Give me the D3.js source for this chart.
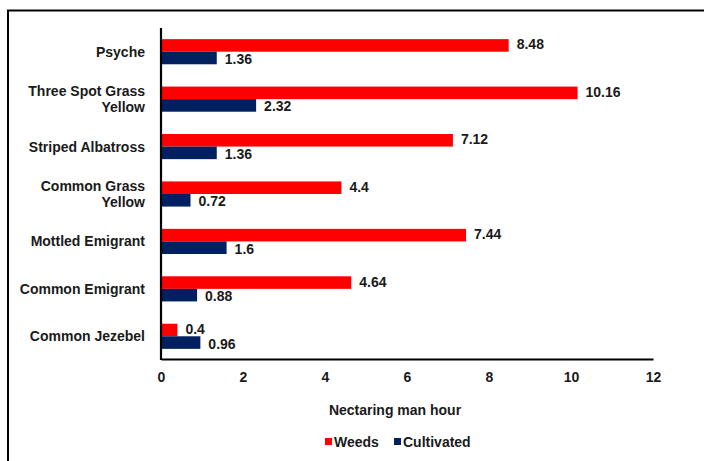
<!DOCTYPE html>
<html>
<head>
<meta charset="utf-8">
<script src="https://cdn.jsdelivr.net/npm/d3@7"></script>
<style>
  html, body { margin: 0; padding: 0; background: #fff; }
  svg text { font-family: "Liberation Sans", Arial, sans-serif; font-weight: bold; fill: #1a1a1a; }
</style>
</head>
<body>
<svg id="chart" width="704" height="461"></svg>
<script>
// Butterfly nectaring effort by plant type
const categories = ["Psyche", "Three Spot Grass Yellow", "Striped Albatross", "Common Grass Yellow",
                    "Mottled Emigrant", "Common Emigrant", "Common Jezebel"];
const categoryLines = [["Psyche"], ["Three Spot Grass", "Yellow"], ["Striped Albatross"],
                       ["Common Grass", "Yellow"], ["Mottled Emigrant"], ["Common Emigrant"], ["Common Jezebel"]];
const weeds = [8.48, 10.16, 7.12, 4.4, 7.44, 4.64, 0.4];
const cultivated = [1.36, 2.32, 1.36, 0.72, 1.6, 0.88, 0.96];
const seriesNames = ["Weeds", "Cultivated"];
const seriesColors = ["#ff0000", "#002060"];
const xTicks = [0, 2, 4, 6, 8, 10, 12];
const xTitle = "Nectaring man hour";

const svg = d3.select("#chart");

// outer frame (top and left edges)
svg.append("line").attr("x1", 7).attr("x2", 704).attr("y1", 10.5).attr("y2", 10.5)
  .attr("stroke", "#000").attr("stroke-width", 2);
svg.append("line").attr("x1", 8).attr("x2", 8).attr("y1", 10).attr("y2", 461)
  .attr("stroke", "#000").attr("stroke-width", 2);

const plot = { left: 161, right: 653, top: 28, bottom: 360 };

const x = d3.scaleLinear().domain([0, 12]).range([plot.left, plot.right]);
const y = d3.scaleBand().domain(categories).range([plot.top, plot.bottom]).paddingInner(0.47).paddingOuter(0.235);
const sub = d3.scaleBand().domain(seriesNames).range([0, y.bandwidth()]);

const rows = categories.map((c, i) => ({ cat: c, lines: categoryLines[i], values: [weeds[i], cultivated[i]] }));

const g = svg.append("g");
rows.forEach(r => {
  r.values.forEach((v, k) => {
    const y0 = y(r.cat) + sub(seriesNames[k]);
    g.append("rect")
      .attr("x", x(0)).attr("y", y0)
      .attr("width", x(v) - x(0)).attr("height", sub.bandwidth())
      .attr("fill", seriesColors[k]);
    g.append("text")
      .attr("x", x(v) + 8).attr("y", y0 + sub.bandwidth() / 2 + (k === 0 ? -1 : 1))
      .attr("dominant-baseline", "central")
      .attr("font-size", 14)
      .text(v);
  });
  // category label
  const cy = y(r.cat) + y.bandwidth() / 2;
  const t = svg.append("text").attr("text-anchor", "end").attr("font-size", 14);
  const n = r.lines.length;
  r.lines.forEach((ln, j) => {
    t.append("tspan").attr("x", 145)
      .attr("y", cy + (j - (n - 1) / 2) * 16)
      .attr("dominant-baseline", "central")
      .text(ln);
  });
});

// x axis (no tick marks)
const xAxis = d3.axisBottom(x).tickValues(xTicks).tickSize(0).tickPadding(13).tickFormat(d3.format("d"));
const xg = svg.append("g").attr("transform", `translate(0,${plot.bottom - 1})`).call(xAxis);
xg.select(".domain").attr("stroke", "#000").attr("stroke-width", 2.2);
xg.selectAll("text").attr("font-size", 14).attr("font-family", null).style("font-weight", "bold").attr("fill", "#1a1a1a");

// y axis line
const yAxis = d3.axisLeft(y).tickSize(0).tickFormat("");
const yg = svg.append("g").attr("transform", `translate(${plot.left},0)`).call(yAxis);
yg.select(".domain").attr("stroke", "#000").attr("stroke-width", 2.2)
  .attr("d", `M0,${plot.top}V${plot.bottom}`);

// axis title
svg.append("text").attr("x", 395).attr("y", 410).attr("text-anchor", "middle")
  .attr("dominant-baseline", "central").attr("font-size", 14).text(xTitle);

// legend
const legend = svg.append("g");
const legendItems = [{ x: 325, label: seriesNames[0], color: seriesColors[0] },
                     { x: 394, label: seriesNames[1], color: seriesColors[1] }];
legendItems.forEach(it => {
  legend.append("rect").attr("x", it.x).attr("y", 438).attr("width", 7).attr("height", 7).attr("fill", it.color);
  legend.append("text").attr("x", it.x + 9).attr("y", 442).attr("dominant-baseline", "central")
    .attr("font-size", 14).text(it.label);
});
</script>
</body>
</html>
